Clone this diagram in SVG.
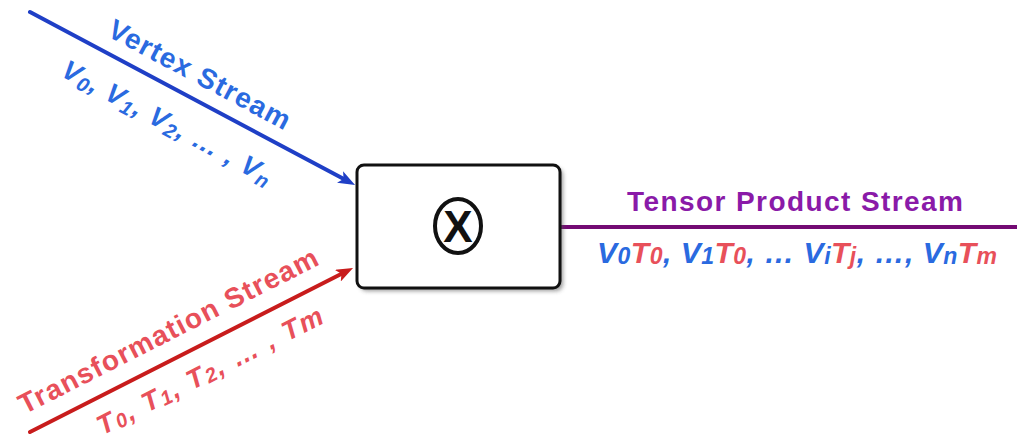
<svg xmlns="http://www.w3.org/2000/svg" width="1017" height="441" viewBox="0 0 1017 441">
  <style>
    .lbl { font-family: "Liberation Sans", Arial, sans-serif; font-weight: bold; }
    .it { font-style: italic; }
    .sub { font-size: 20px; }
    .sub2 { font-size: 23px; }
    .vx { fill: #2a6ae0; }
    .tr { fill: #e8505a; }
    .tp { fill: #8a1aa8; }
  </style>
  <defs>
    <marker id="headBlue" markerUnits="userSpaceOnUse" viewBox="0 0 17 13" markerWidth="17" markerHeight="13" refX="7" refY="6.5" orient="auto">
      <path d="M0,0 L17,6.5 L0,13 L4,6.5 z" fill="#1f3fc6"/>
    </marker>
    <marker id="headRed" markerUnits="userSpaceOnUse" viewBox="0 0 17 13" markerWidth="17" markerHeight="13" refX="7" refY="6.5" orient="auto">
      <path d="M0,0 L17,6.5 L0,13 L4,6.5 z" fill="#c81c1c"/>
    </marker>
    <filter id="shadow" x="-10%" y="-10%" width="130%" height="130%">
      <feGaussianBlur stdDeviation="2"/>
    </filter>
  </defs>

  <rect width="1017" height="441" fill="#ffffff"/>

  <!-- connectors -->
  <g id="connectors" fill="none" stroke-width="4" stroke-linecap="round">
    <line x1="30" y1="12" x2="346.2" y2="180.3" stroke="#1f3fc6" marker-end="url(#headBlue)"/>
    <line x1="30" y1="432" x2="344.1" y2="272.5" stroke="#c81c1c" marker-end="url(#headRed)"/>
    <line x1="560" y1="227" x2="1020" y2="227" stroke="#730a73" stroke-linecap="butt"/>
  </g>

  <!-- input stream labels -->
  <g id="vertex-stream" transform="translate(30,12) rotate(28.03)">
    <text class="lbl vx" x="78" y="-15" font-size="28" textLength="202" lengthAdjust="spacing">Vertex Stream</text>
    <text class="lbl it vx" x="56" y="42" font-size="27" textLength="234" lengthAdjust="spacing">V<tspan class="sub" dy="4">0</tspan><tspan dy="-4">, V</tspan><tspan class="sub" dy="4">1</tspan><tspan dy="-4">, V</tspan><tspan class="sub" dy="4">2</tspan><tspan dy="-4">, … , V</tspan><tspan class="sub" dy="4">n</tspan></text>
  </g>

  <g id="transformation-stream" transform="translate(30,432) rotate(-26.92)">
    <text class="lbl tr" x="3" y="-18" font-size="28" textLength="332" lengthAdjust="spacing">Transformation Stream</text>
    <text class="lbl it tr" x="63" y="36" font-size="27" textLength="250" lengthAdjust="spacing">T<tspan class="sub" dy="2">0</tspan><tspan dy="-2">, T</tspan><tspan class="sub" dy="2">1</tspan><tspan dy="-2">, T</tspan><tspan class="sub" dy="2">2</tspan><tspan dy="-2">, … , Tm</tspan></text>
  </g>

  <!-- tensor product operator -->
  <g id="operator">
    <rect x="360" y="168" width="203" height="123" rx="7" fill="#555555" opacity="0.6" filter="url(#shadow)"/>
    <rect x="357" y="165" width="203" height="123" rx="7" fill="#ffffff" stroke="#111111" stroke-width="3"/>
    <ellipse cx="458" cy="226" rx="23" ry="27" fill="none" stroke="#111111" stroke-width="4"/>
    <text class="lbl" x="458" y="242" font-size="44" text-anchor="middle" fill="#111111">X</text>
  </g>

  <!-- output stream labels -->
  <g id="tensor-product-stream">
    <text class="lbl tp" x="795" y="211" font-size="28" text-anchor="middle" textLength="336" lengthAdjust="spacing">Tensor Product Stream</text>
    <text class="lbl it" x="597" y="263" font-size="30" textLength="400" lengthAdjust="spacing"><tspan class="vx">V</tspan><tspan class="vx sub2" dy="1">0</tspan><tspan class="tr" dy="-1">T</tspan><tspan class="tr sub2" dy="1">0</tspan><tspan class="vx" dy="-1">, V</tspan><tspan class="vx sub2" dy="1">1</tspan><tspan class="tr" dy="-1">T</tspan><tspan class="tr sub2" dy="1">0</tspan><tspan class="vx" dy="-1">, … V</tspan><tspan class="vx sub2" dy="1">i</tspan><tspan class="tr" dy="-1">T</tspan><tspan class="tr sub2" dy="1">j</tspan><tspan class="vx" dy="-1">, …, V</tspan><tspan class="vx sub2" dy="1">n</tspan><tspan class="tr" dy="-1">T</tspan><tspan class="tr sub2" dy="1">m</tspan></text>
  </g>
</svg>
